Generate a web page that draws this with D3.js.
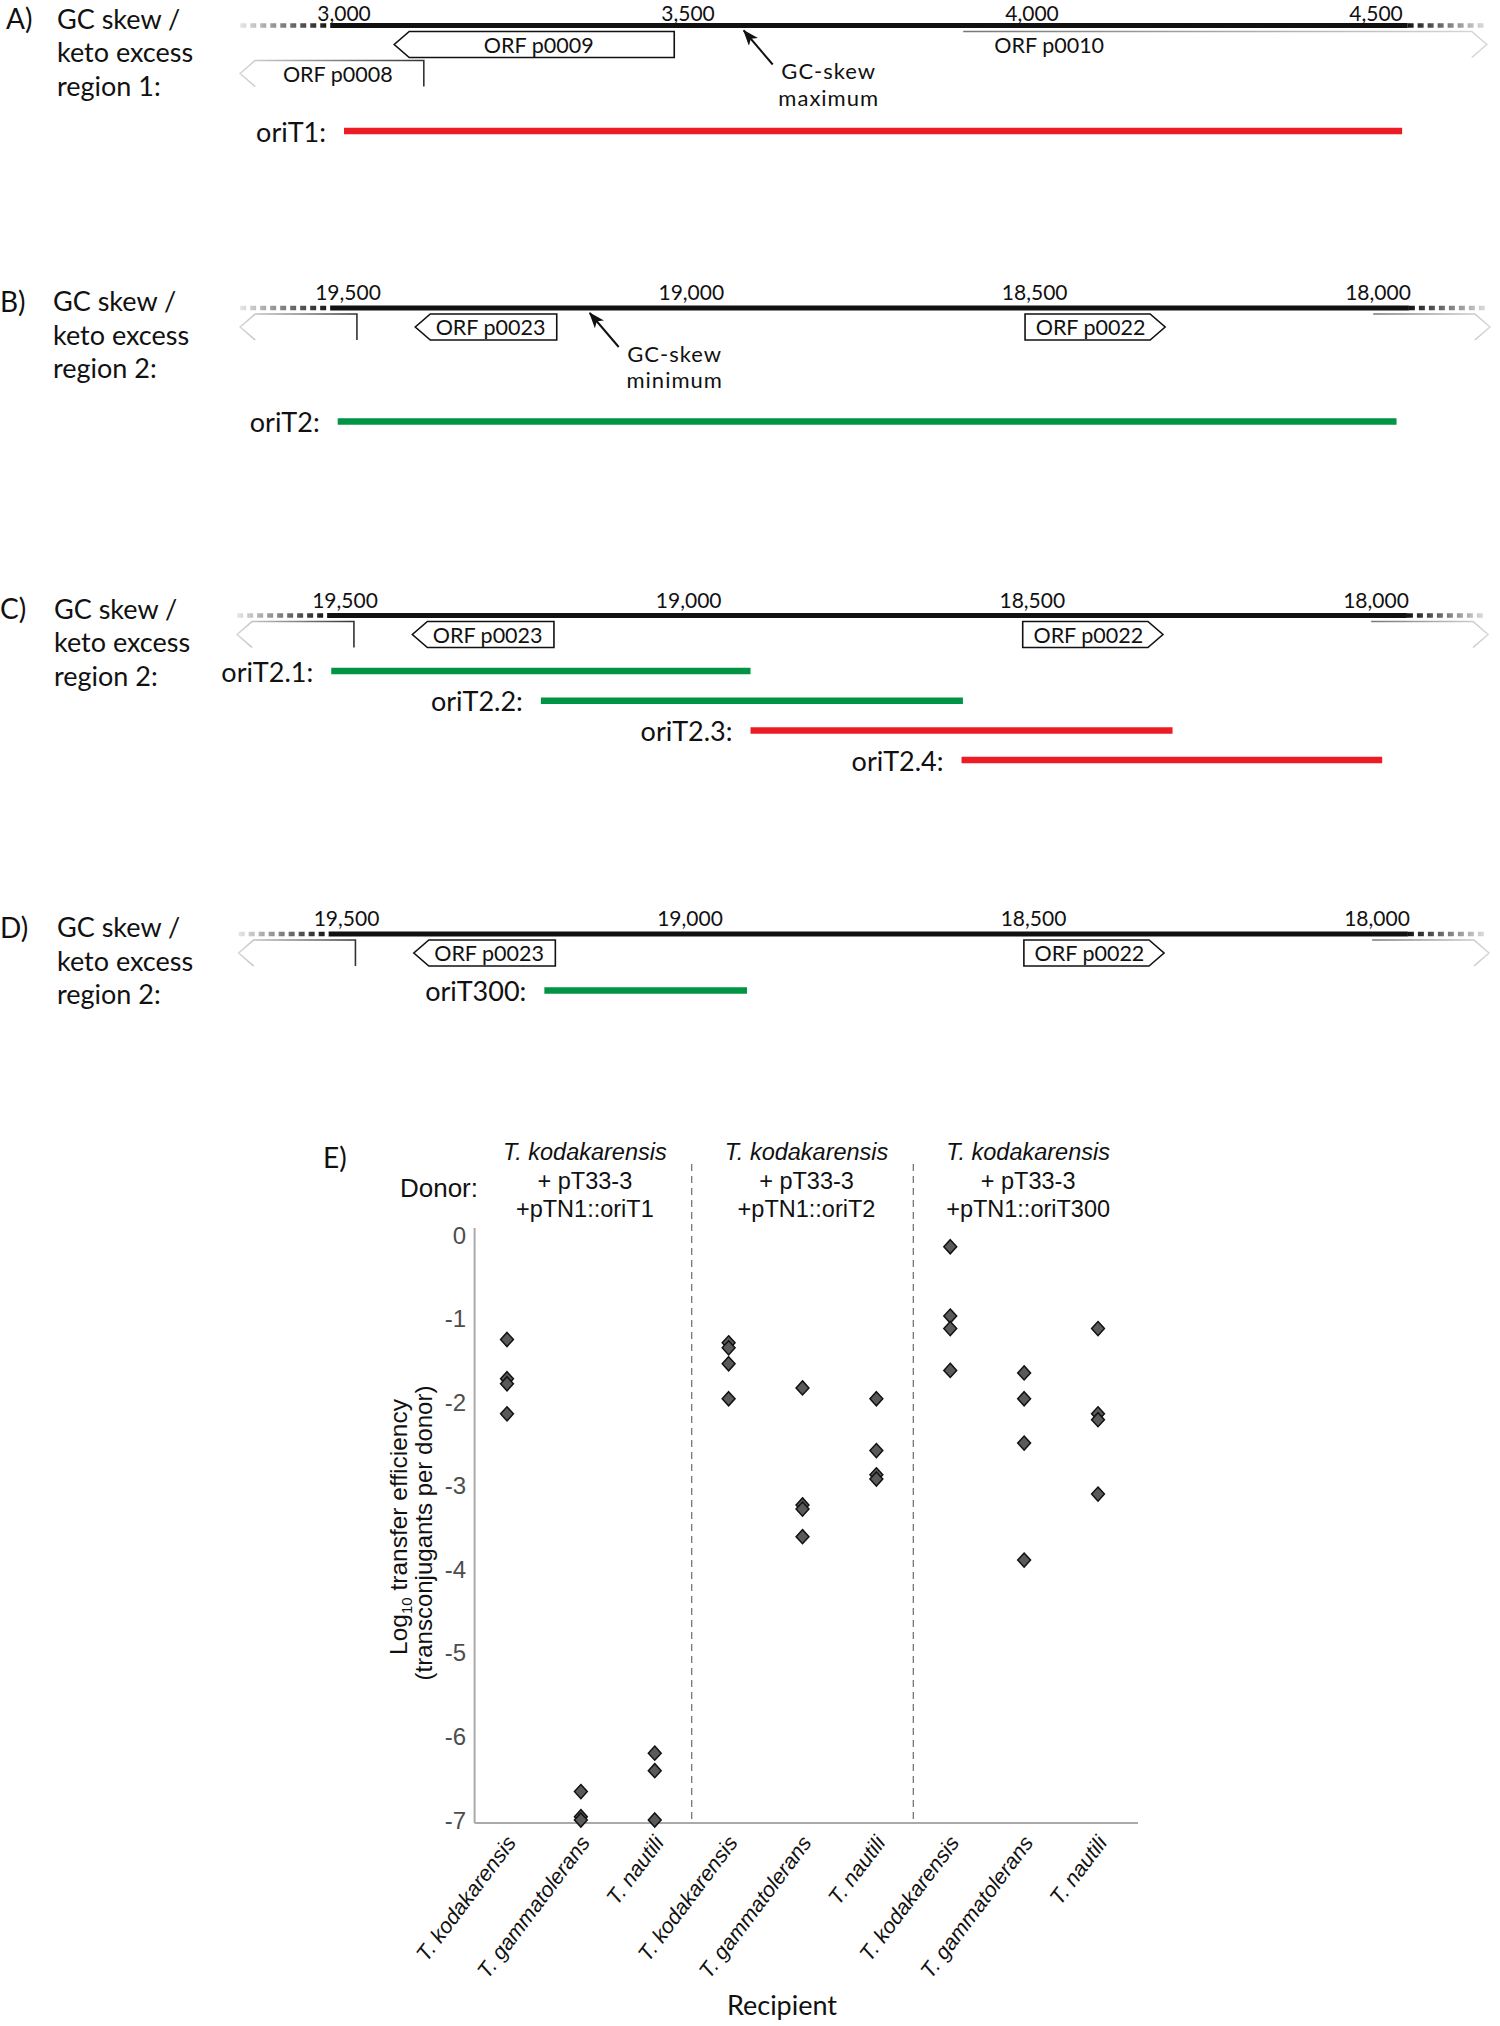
<!DOCTYPE html>
<html>
<head>
<meta charset="utf-8">
<script src="https://cdn.jsdelivr.net/npm/d3@7"></script>
<style>
body { margin: 0; background: #fff; }
text { font-family: Lato, "Open Sans", sans-serif; fill: #111; }
.arial { font-family: "Liberation Sans", Arial, sans-serif; }
</style>
</head>
<body>
<svg id="mainsvg" width="1500" height="2026"></svg>
<script>
// ---- data: genome regions ----
const ticksRegion1 = [3000, 3500, 4000, 4500];
const ticksRegion2 = [19500, 19000, 18500, 18000];
const spanRegion1 = [2980, 4546];
const spanRegion2 = [19526, 17955];

// from -> to : arrow tip at "to"
const orfsRegion1 = [
  {name: 'ORF p0009', from: 3480, to: 3073, track: 0, partial: false},
  {name: 'ORF p0008', from: 3116, to: 2849, track: 1, partial: true},
  {name: 'ORF p0010', from: 3900, to: 4661, track: 0, partial: true}
];
const orfsRegion2 = [
  {name: '', from: 19487, to: 19657, track: 0, partial: true},
  {name: 'ORF p0023', from: 19196, to: 19402, track: 0, partial: false},
  {name: 'ORF p0022', from: 18514, to: 18310, track: 0, partial: false},
  {name: '', from: 18007, to: 17837, track: 0, partial: true}
];
const skewMax = {lines: ['GC-skew', 'maximum'], at: 3581};
const skewMin = {lines: ['GC-skew', 'minimum'], at: 19148};

const oriRegionA = [{name: 'oriT1', from: 3000, to: 4538, active: false}];
const oriRegionB = [{name: 'oriT2', from: 19515, to: 17973, active: true}];
const oriRegionC = [
  {name: 'oriT2.1', from: 19520, to: 18910, active: true},
  {name: 'oriT2.2', from: 19215, to: 18601, active: true},
  {name: 'oriT2.3', from: 18910, to: 18296, active: false},
  {name: 'oriT2.4', from: 18603, to: 17991, active: false}
];
const oriRegionD = [{name: 'oriT300', from: 19212, to: 18917, active: true}];

// ---- data: transfer efficiency ----
const recipients = ['T. kodakarensis', 'T. gammatolerans', 'T. nautili'];
const donorPlasmids = ['+pTN1::oriT1', '+pTN1::oriT2', '+pTN1::oriT300'];
const effOriT1 = [[-1.25, -1.72, -1.78, -2.14], [-6.66, -6.96, -7.0], [-6.2, -6.41, -7.0]];
const effOriT2 = [[-1.29, -1.35, -1.54, -1.96], [-1.83, -3.23, -3.28, -3.61], [-1.96, -2.58, -2.87, -2.92]];
const effOriT300 = [[-0.14, -0.97, -1.12, -1.62], [-1.65, -1.96, -2.49, -3.89], [-1.12, -2.14, -2.21, -3.10]];
const yTicksE = [0, -1, -2, -3, -4, -5, -6, -7];

const svg = d3.select('#mainsvg');
const defs = svg.append('defs');
const RED = '#ed1c24', GREEN = '#009444';

let gradCount = 0;
function hGrad(x1, x2, c1, c2) {
  const id = 'grad' + (gradCount++);
  const g = defs.append('linearGradient').attr('id', id)
    .attr('gradientUnits', 'userSpaceOnUse')
    .attr('x1', x1).attr('x2', x2).attr('y1', 0).attr('y2', 0);
  g.append('stop').attr('offset', 0).attr('stop-color', c1);
  g.append('stop').attr('offset', 1).attr('stop-color', c2);
  return `url(#${id})`;
}

defs.append('marker').attr('id', 'tip')
  .attr('markerUnits', 'userSpaceOnUse')
  .attr('viewBox', '0 0 16 12').attr('refX', 15).attr('refY', 6)
  .attr('markerWidth', 16).attr('markerHeight', 12).attr('orient', 'auto')
  .append('path').attr('d', 'M0,0L16,6L0,12L4,6Z').attr('fill', '#111');

function genePath(x0, x1, top, h, aw, partial) {
  const d = x1 > x0 ? 1 : -1;
  const mid = top + h / 2, bot = top + h, neck = x1 - d * aw;
  if (!partial) return `M${x0},${top}L${neck},${top}L${x1},${mid}L${neck},${bot}L${x0},${bot}Z`;
  const start = d < 0 ? `M${x0},${bot}L${x0},${top}` : `M${x0},${top}`;
  return `${start}L${neck},${top}L${x1},${mid}L${neck},${bot}`;
}

const panels = [
  {tag: 'A)', lines: ['GC skew /', 'keto excess', 'region 1:'], domain: [3000, 4500], ticks: ticksRegion1, span: spanRegion1, orfs: orfsRegion1, oris: oriRegionA, skew: skewMax},
  {tag: 'B)', lines: ['GC skew /', 'keto excess', 'region 2:'], domain: [19500, 18000], ticks: ticksRegion2, span: spanRegion2, orfs: orfsRegion2, oris: oriRegionB, skew: skewMin},
  {tag: 'C)', lines: ['GC skew /', 'keto excess', 'region 2:'], domain: [19500, 18000], ticks: ticksRegion2, span: spanRegion2, orfs: orfsRegion2, oris: oriRegionC, skew: null},
  {tag: 'D)', lines: ['GC skew /', 'keto excess', 'region 2:'], domain: [19500, 18000], ticks: ticksRegion2, span: spanRegion2, orfs: orfsRegion2, oris: oriRegionD, skew: null}
];
const layout = [
  {axisY: 25.5, range: [344, 1376], tagX: 6, textX: 57, oriY: 131},
  {axisY: 308, range: [348, 1378], tagX: 0, textX: 53, oriY: 421.5},
  {axisY: 615.5, range: [345, 1376], tagX: 0, textX: 54, oriY: 671},
  {axisY: 934, range: [346.5, 1377], tagX: 0, textX: 57, oriY: 990.5}
];

panels.forEach((p, i) => {
  const L = layout[i];
  const x = d3.scaleLinear().domain(p.domain).range(L.range);
  const g = svg.append('g');
  const ay = L.axisY;

  // labels on the left
  g.append('text').attr('x', L.tagX).attr('y', ay - 7.5).attr('dominant-baseline', 'central')
    .style('font-size', '28px').text(p.tag);
  g.selectAll('.lbl').data(p.lines).join('text')
    .attr('x', L.textX).attr('y', (d, k) => ay - 7.5 + k * 33.7)
    .attr('dominant-baseline', 'central').style('font-size', '27px').text(d => d);

  // backbone
  const s0 = x(p.span[0]), s1 = x(p.span[1]);
  g.append('line').attr('x1', s0 - 90).attr('x2', s0).attr('y1', ay).attr('y2', ay)
    .attr('stroke', hGrad(s0 - 90, s0, '#e6e6e6', '#111')).attr('stroke-width', 4.5).attr('stroke-dasharray', '6,4');
  g.append('line').attr('x1', s1).attr('x2', s1 + 80).attr('y1', ay).attr('y2', ay)
    .attr('stroke', hGrad(s1, s1 + 80, '#111', '#e6e6e6')).attr('stroke-width', 4.5).attr('stroke-dasharray', '6,4');
  g.append('line').attr('x1', s0).attr('x2', s1).attr('y1', ay).attr('y2', ay)
    .attr('stroke', '#111').attr('stroke-width', 5);

  g.selectAll('.tick').data(p.ticks).join('text')
    .attr('x', d => x(d)).attr('y', Math.max(ay - 8, 21)).attr('text-anchor', 'middle')
    .style('font-size', '21px').text(d3.format(','));

  // ORFs
  const geneH = 26, aw = 15;
  p.orfs.forEach(o => {
    const x0 = x(o.from), x1 = x(o.to);
    const dir = x1 > x0 ? 1 : -1;
    const top = ay + 6 + o.track * 29;
    const stroke = o.partial ? hGrad(x0, x1, dir > 0 ? '#777' : '#333', '#d8d8d8') : '#111';
    g.append('path').attr('d', genePath(x0, x1, top, geneH, aw, o.partial))
      .attr('fill', o.partial ? 'none' : '#fff').attr('stroke', stroke).attr('stroke-width', 1.6);
    if (o.name) {
      const cx = o.partial ? x0 + dir * 86 : (x0 + x1) / 2 - dir * aw * 0.3;
      g.append('text').attr('x', cx).attr('y', top + geneH / 2).attr('dominant-baseline', 'central')
        .attr('text-anchor', 'middle').style('font-size', '21.5px').text(o.name);
    }
  });

  // GC skew pointer
  if (p.skew) {
    const tx = x(p.skew.at);
    g.append('line').attr('x1', tx + 29).attr('y1', ay + 39).attr('x2', tx).attr('y2', ay + 5)
      .attr('stroke', '#111').attr('stroke-width', 2).attr('marker-end', 'url(#tip)');
    g.selectAll('.skew').data(p.skew.lines).join('text')
      .attr('x', tx + 85).attr('y', (d, k) => ay + 45 + k * 26.6)
      .attr('text-anchor', 'middle').attr('dominant-baseline', 'central')
      .style('font-size', '22px').style('letter-spacing', '1px').text(d => d);
  }

  // oriT fragments
  p.oris.forEach((o, k) => {
    const y = L.oriY + k * 29.7;
    g.append('line').attr('x1', x(o.from)).attr('x2', x(o.to)).attr('y1', y).attr('y2', y)
      .attr('stroke', o.active ? GREEN : RED).attr('stroke-width', 6.5);
    g.append('text').attr('x', x(o.from) - 18).attr('y', y).attr('text-anchor', 'end')
      .attr('dominant-baseline', 'central').style('font-size', '27px').text(o.name + ':');
  });
});

// ---- panel E ----
const groups = [effOriT1, effOriT2, effOriT300];
const keys = [];
groups.forEach((grp, gi) => recipients.forEach((r, ri) => keys.push(gi + '-' + ri)));
const xE = d3.scalePoint().domain(keys).range([507, 1098]);
const yE = d3.scaleLinear().domain([-7, 0]).range([1820, 1235]);
const axisX = 474.6, baseY = 1823;
const ge = svg.append('g');

ge.append('text').attr('x', 323).attr('y', 1157).attr('dominant-baseline', 'central')
  .style('font-size', '28px').text('E)');

ge.append('line').attr('x1', axisX).attr('x2', axisX).attr('y1', 1228).attr('y2', baseY)
  .attr('stroke', '#aaa').attr('stroke-width', 2);
ge.append('line').attr('x1', axisX).attr('x2', 1138).attr('y1', baseY).attr('y2', baseY)
  .attr('stroke', '#aaa').attr('stroke-width', 2);

ge.selectAll('.yt').data(yTicksE).join('text').attr('class', 'arial')
  .attr('x', 466).attr('y', d => yE(d)).attr('text-anchor', 'end').attr('dominant-baseline', 'central')
  .style('font-size', '24px').style('fill', '#4d4d4d').text(d => d);

// group separators
[1, 2].forEach(gi => {
  const sx = (xE(gi + '-0') + xE((gi - 1) + '-2')) / 2;
  ge.append('line').attr('x1', sx).attr('x2', sx).attr('y1', 1164).attr('y2', baseY)
    .attr('stroke', '#777').attr('stroke-width', 1.3).attr('stroke-dasharray', '7,5');
});

// donor headers
ge.append('text').attr('class', 'arial').attr('x', 478).attr('y', 1188).attr('text-anchor', 'end')
  .attr('dominant-baseline', 'central').style('font-size', '26px').text('Donor:');
donorPlasmids.forEach((pl, gi) => {
  const cx = xE(gi + '-1') + 4;
  const hd = [{t: 'T. kodakarensis', it: true}, {t: '+ pT33-3', it: false}, {t: pl, it: false}];
  ge.selectAll('.hd' + gi).data(hd).join('text').attr('class', 'arial')
    .attr('x', cx).attr('y', (d, k) => 1152 + k * 28.5).attr('text-anchor', 'middle')
    .attr('dominant-baseline', 'central').style('font-size', '23.5px')
    .style('font-style', d => d.it ? 'italic' : 'normal').text(d => d.t);
});

// points
const diamond = {draw(ctx, size) { const r = Math.sqrt(size) / 2; ctx.moveTo(0, -r * 1.1); ctx.lineTo(r, 0); ctx.lineTo(0, r * 1.1); ctx.lineTo(-r, 0); ctx.closePath(); }};
const pts = [];
groups.forEach((grp, gi) => grp.forEach((vals, ri) => vals.forEach(v => pts.push({k: gi + '-' + ri, v}))));
ge.selectAll('.pt').data(pts).join('path')
  .attr('d', d3.symbol().type(diamond).size(165))
  .attr('transform', d => `translate(${xE(d.k)},${yE(d.v)})`)
  .attr('fill', '#5a5a5a').attr('stroke', '#111').attr('stroke-width', 1.5);

// x labels
ge.selectAll('.xl').data(keys).join('text').attr('class', 'arial')
  .attr('transform', d => `translate(${xE(d) + 10},${1843}) rotate(-53)`)
  .attr('text-anchor', 'end').style('font-size', '21.5px').style('font-style', 'italic')
  .text(d => recipients[+d.split('-')[1]]);

// axis titles
const yt = ge.append('text').attr('class', 'arial')
  .attr('transform', 'translate(398,1527) rotate(-90)').attr('text-anchor', 'middle')
  .attr('dominant-baseline', 'central').style('font-size', '24.5px');
yt.append('tspan').text('Log');
yt.append('tspan').attr('baseline-shift', 'sub').style('font-size', '15px').text('10');
yt.append('tspan').text(' transfer efficiency');
ge.append('text').attr('class', 'arial')
  .attr('transform', 'translate(423,1533) rotate(-90)').attr('text-anchor', 'middle')
  .attr('dominant-baseline', 'central').style('font-size', '24px').text('(transconjugants per donor)');

ge.append('text').attr('x', 782).attr('y', 2004).attr('text-anchor', 'middle')
  .attr('dominant-baseline', 'central').style('font-size', '27px').text('Recipient');
</script>
</body>
</html>
